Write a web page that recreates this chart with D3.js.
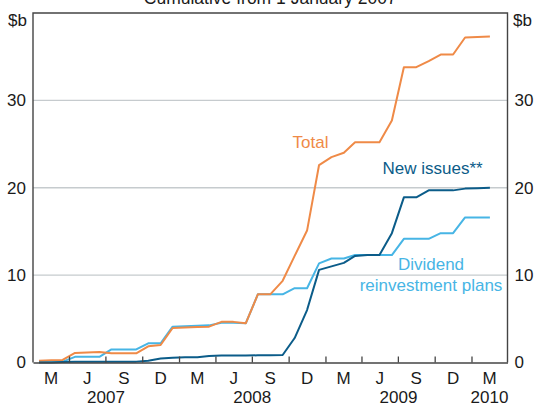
<!DOCTYPE html>
<html>
<head>
<meta charset="utf-8">
<script src="https://cdn.jsdelivr.net/npm/d3@7"></script>
<style>
  html, body { margin: 0; padding: 0; background: #fff; }
  svg { display: block; font-family: "Liberation Sans", Arial, sans-serif; }
</style>
</head>
<body>
<svg id="chart" width="534" height="406"></svg>
<script>
// ---- Data (cumulative, $b), monthly Jan 2007 .. Feb 2010 ----
const firstMonth = [2007, 0];
const total = [0.2, 0.25, 0.3, 1.1, 1.15, 1.2, 1.05, 1.05, 1.05, 1.85, 2.0, 3.95,
  4.0, 4.05, 4.1, 4.65, 4.65, 4.5, 7.8, 7.8, 9.35, 12.2, 15.1, 22.6,
  23.5, 24.0, 25.2, 25.2, 25.2, 27.7, 33.8, 33.8, 34.5, 35.25, 35.25, 37.2,
  37.25, 37.3];
const newIssues = [0.0, 0.0, 0.05, 0.1, 0.1, 0.1, 0.1, 0.1, 0.1, 0.2, 0.45, 0.55,
  0.6, 0.6, 0.75, 0.8, 0.8, 0.8, 0.82, 0.84, 0.86, 2.8, 6.0, 10.6,
  11.0, 11.4, 12.2, 12.3, 12.3, 14.8, 18.9, 18.9, 19.7, 19.7, 19.7, 19.9,
  19.95, 20.0];
const dividendPlans = [0.08, 0.1, 0.1, 0.65, 0.65, 0.65, 1.5, 1.5, 1.5, 2.2, 2.2, 4.1,
  4.15, 4.2, 4.25, 4.55, 4.55, 4.5, 7.8, 7.8, 7.8, 8.5, 8.5, 11.35,
  11.9, 11.9, 12.3, 12.3, 12.3, 12.3, 14.15, 14.15, 14.15, 14.8, 14.8, 16.6,
  16.6, 16.6];
const yTicks = [0, 10, 20, 30];
const quarterLabels = ["M", "J", "S", "D", "M", "J", "S", "D", "M", "J", "S", "D", "M"];
const yearLabels = ["2007", "2008", "2009", "2010"];
const title = "Cumulative from 1 January 2007";
const unit = "$b";

// ---- Layout ----
const W = 534, H = 406;
const L = 33, R = 507.5, T = 13, B = 362.5;
const C = { total: "#EF8A47", newIss: "#0B5C89", drp: "#47B5E5", axis: "#444", grid: "#C6CBCE", text: "#1a1a1a" };
const FS = 17;

const svg = d3.select("#chart");

const x = d3.scaleTime()
  .domain([new Date(2007, 0, 1), new Date(2010, 3, 1)])
  .range([L, R]);
const y = d3.scaleLinear().domain([0, 40]).range([B, T]);

const dates = total.map((_, i) => new Date(firstMonth[0], firstMonth[1] + i, 16));

// gridlines
svg.append("g")
  .selectAll("line")
  .data(yTicks.filter(d => d > 0))
  .join("line")
  .attr("x1", L).attr("x2", R)
  .attr("y1", d => y(d)).attr("y2", d => y(d))
  .attr("stroke", C.grid).attr("stroke-width", 1.3);

// series
const line = d3.line().x((d, i) => x(dates[i])).y(d => y(d));
const series = [
  { vals: dividendPlans, color: C.drp },
  { vals: total, color: C.total },
  { vals: newIssues, color: C.newIss }
];
svg.append("g").selectAll("path")
  .data(series)
  .join("path")
  .attr("d", d => line(d.vals))
  .attr("fill", "none")
  .attr("stroke", d => d.color)
  .attr("stroke-width", 2)
  .attr("stroke-linejoin", "round");

// frame (left, top, right)
svg.append("path")
  .attr("d", `M${L},${B}V${T}H${R}V${B}`)
  .attr("fill", "none").attr("stroke", C.axis).attr("stroke-width", 1.4);

// x axis with inward quarter ticks
const qTicks = d3.timeMonth.every(3).range(new Date(2007, 3, 1), new Date(2010, 3, 1));
const xAxis = d3.axisBottom(x).tickValues(qTicks).tickSize(-6).tickSizeOuter(0).tickFormat("");
const gx = svg.append("g").attr("transform", `translate(0,${B})`).call(xAxis);
gx.select(".domain").attr("stroke", C.axis).attr("stroke-width", 1.6);
gx.selectAll(".tick line").attr("stroke", C.axis).attr("stroke-width", 1.3);

// quarter labels centred within quarters
const qStarts = d3.timeMonth.every(3).range(new Date(2007, 0, 1), new Date(2010, 3, 1));
svg.append("g").selectAll("text")
  .data(qStarts)
  .join("text")
  .attr("x", d => (x(d) + x(d3.timeMonth.offset(d, 3))) / 2)
  .attr("y", 384)
  .attr("text-anchor", "middle")
  .attr("font-size", FS)
  .attr("fill", C.text)
  .text((d, i) => quarterLabels[i]);

// year labels
svg.append("g").selectAll("text")
  .data(yearLabels)
  .join("text")
  .attr("x", d => {
    const s = new Date(+d, 0, 1);
    const e = d3.min([new Date(+d + 1, 0, 1), x.domain()[1]]);
    return (x(s) + x(e)) / 2;
  })
  .attr("y", 403)
  .attr("text-anchor", "middle")
  .attr("font-size", FS)
  .attr("fill", C.text)
  .text(d => d);

// y tick labels, both sides
const yl = svg.append("g");
yl.selectAll("text.l").data(yTicks).join("text").attr("class", "l")
  .attr("x", 26).attr("y", d => y(d)).attr("dy", "0.35em")
  .attr("text-anchor", "end").attr("font-size", FS).attr("fill", C.text)
  .text(d => d);
yl.selectAll("text.r").data(yTicks).join("text").attr("class", "r")
  .attr("x", 514.5).attr("y", d => y(d)).attr("dy", "0.35em")
  .attr("text-anchor", "start").attr("font-size", FS).attr("fill", C.text)
  .text(d => d);

// units
svg.append("text").attr("x", 27).attr("y", 26).attr("text-anchor", "end")
  .attr("font-size", FS).attr("fill", C.text).text(unit);
svg.append("text").attr("x", 513).attr("y", 26).attr("text-anchor", "start")
  .attr("font-size", FS).attr("fill", C.text).text(unit);

// title (partly cropped at top)
svg.append("text").attr("x", (L + R) / 2).attr("y", 4).attr("text-anchor", "middle")
  .attr("font-size", 17.5).attr("fill", C.text).text(title);

// series labels
svg.append("text").attr("x", 292.5).attr("y", 147.5).attr("font-size", FS)
  .attr("fill", C.total).text("Total");
svg.append("text").attr("x", 382.5).attr("y", 174).attr("font-size", FS)
  .attr("fill", C.newIss).text("New issues**");
const dl = svg.append("text").attr("x", 431).attr("text-anchor", "middle")
  .attr("font-size", FS).attr("fill", C.drp);
dl.append("tspan").attr("x", 431).attr("y", 269.5).text("Dividend");
dl.append("tspan").attr("x", 431).attr("y", 290.5).text("reinvestment plans");
</script>
</body>
</html>
